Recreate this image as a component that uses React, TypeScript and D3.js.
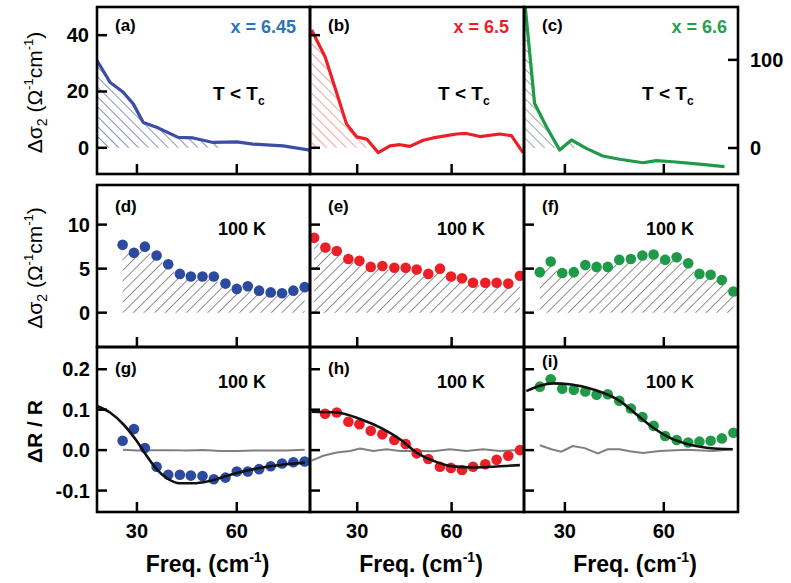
import React from 'react';
import * as d3 from 'd3';

// ---------- data ----------
const FREQ_TICKS = [30, 60];
const TOP_TICKS_AB = [0, 20, 40];
const TOP_TICKS_B = [0, 40];
const TOP_TICKS_C = [0, 100];
const MID_TICKS = [0, 5, 10];
const BOT_TICKS = [-0.1, 0.0, 0.1, 0.2];
const BOT_TICK_LABELS = ['-0.1', '0.0', '0.1', '0.2'];

// (a) x = 6.45, T < Tc
const aFreq = [18, 21.9, 25.8, 28.9, 31.9, 35.9, 42.4, 46.9, 52.9, 60, 64.9, 73.9, 82];
const aSigma = [31, 23.3, 19.8, 15.6, 9, 7.3, 3.7, 3.5, 1.9, 2.1, 1.3, 0.7, -0.8];
// (b) x = 6.5, T < Tc
const bFreq = [15.5, 19.8, 22.9, 26.6, 29.8, 33, 36.7, 40.4, 43.6, 46.7, 51, 54.1, 58.4, 61.6, 64.7, 69, 75.3, 79, 82.7];
const bSigma = [41.8, 32.3, 21.5, 8.5, 3.9, 3.1, -1.7, 0.7, 1.1, 0.5, 2.7, 3.5, 4.3, 4.9, 5.1, 4.0, 4.9, 4.3, -1.7];
// (c) x = 6.6, T < Tc
const cFreq = [17.6, 20.8, 24.4, 28.4, 32, 36.5, 41.5, 46.6, 53.7, 57.7, 62.7, 70.8, 78.4];
const cSigma = [175, 50.8, 24.2, -2.3, 9.1, -0.4, -9.1, -12.8, -16.7, -14.4, -15.6, -18.2, -21.2];

// (d) 100 K
const dFreq = [25.7, 29.1, 32.4, 35.9, 39.4, 42.9, 46.2, 49.7, 53.1, 56.6, 60, 63.3, 66.7, 70.2, 73.6, 77, 80.4];
const dSigma = [7.7, 6.8, 7.5, 6.5, 5.5, 4.4, 4.1, 4.1, 4.1, 3.3, 2.7, 3.0, 2.5, 2.3, 2.2, 2.5, 2.9];
// (e) 100 K
const eFreq = [16.3, 19.9, 23.5, 27.2, 30.7, 34.3, 38, 41.8, 45.4, 48.9, 52.6, 56.3, 59.8, 63.3, 66.8, 70.7, 74.3, 78, 81.7];
const eSigma = [8.5, 7.4, 7.0, 6.1, 5.9, 5.2, 5.3, 5.1, 5.1, 4.9, 4.4, 5.0, 4.1, 3.9, 3.4, 3.4, 3.4, 3.3, 4.2];
// (f) 100 K
const fFreq = [22.4, 25.7, 29.2, 32.7, 36.2, 39.6, 43, 46.5, 50, 53.5, 56.9, 60.4, 63.9, 67.4, 70.8, 74.2, 77.6, 81.1];
const fSigma = [4.6, 5.8, 4.5, 4.6, 5.4, 5.2, 5.2, 6.0, 6.1, 6.5, 6.6, 6.0, 6.3, 5.6, 4.4, 4.3, 3.7, 2.4];

// (g) ΔR/R 100 K
const gFreq = dFreq;
const gDR = [0.023, 0.052, 0.005, -0.041, -0.061, -0.061, -0.063, -0.064, -0.072, -0.068, -0.053, -0.053, -0.047, -0.040, -0.033, -0.030, -0.028];
const gFitFreq = [18, 21.9, 25.9, 29.9, 32.9, 35.9, 38.9, 42.9, 46.9, 51.9, 58.9, 66.9, 74.9, 80.5];
const gFit = [0.109, 0.093, 0.064, 0.023, -0.014, -0.047, -0.069, -0.082, -0.082, -0.076, -0.059, -0.044, -0.035, -0.031];
const gRefFreq = [25.8, 30, 35, 40, 45, 50, 55, 60, 65, 70, 75, 80.4];
const gRef = [0.001, -0.001, 0.0, 0.0, -0.001, 0.0, -0.002, -0.002, -0.001, -0.001, -0.001, 0.001];
// (h)
const hFreq = [19.8, 23.5, 27.2, 30.7, 34.3, 38, 41.8, 45.4, 48.9, 52.6, 56.3, 59.8, 63.3, 66.8, 70.7, 74.3, 78, 81.7];
const hDR = [0.090, 0.093, 0.070, 0.064, 0.048, 0.039, 0.025, 0.015, -0.008, -0.022, -0.041, -0.044, -0.049, -0.041, -0.035, -0.024, -0.014, 0.000];
const hFitFreq = [15.5, 23.5, 30.9, 38.3, 43.6, 48.9, 54.1, 59.4, 66.8, 75.3, 81.7];
const hFit = [0.095, 0.093, 0.077, 0.052, 0.027, -0.006, -0.026, -0.039, -0.043, -0.040, -0.037];
const hRefFreq = [15.5, 19.2, 23.5, 27.7, 30.9, 35.1, 39.3, 43.6, 50, 54.1, 59.4, 64.7, 70, 75.3, 81.7];
const hRef = [-0.026, -0.014, -0.006, -0.002, 0.004, -0.002, 0.002, -0.002, -0.002, -0.003, 0.002, -0.002, 0.002, -0.002, 0.0];
// (i)
const iFreq = fFreq;
const iDR = [0.157, 0.175, 0.152, 0.149, 0.145, 0.137, 0.138, 0.122, 0.103, 0.082, 0.060, 0.035, 0.025, 0.019, 0.021, 0.023, 0.029, 0.043];
const iFitFreq = [18.3, 22.4, 26.4, 31.4, 36.5, 41.5, 46.6, 51.6, 56.7, 61.7, 66.8, 72.9, 80.9];
const iFit = [0.146, 0.159, 0.165, 0.163, 0.155, 0.142, 0.122, 0.089, 0.056, 0.031, 0.016, 0.006, 0.002];
const iRefFreq = [22.4, 25.9, 28.9, 32.4, 36, 40, 43, 46.6, 49.6, 53.7, 58.7, 66.8, 74.9, 80.9];
const iRef = [0.012, 0.002, -0.004, 0.010, 0.005, -0.008, 0.002, 0.002, -0.003, -0.007, -0.002, 0.001, -0.002, 0.002];

// ---------- layout ----------
const W = 791, H = 583;
const FONT = "'Liberation Sans', Arial, Helvetica, sans-serif";
const COLX = [[97, 310], [310, 524], [524, 738]];
const COL_DOMAIN = [[18, 82], [15, 83], [17.6, 82.5]];
const ROWY = [[7, 174], [185, 347], [347, 512]];

const xS = COLX.map((r, i) => d3.scaleLinear().domain(COL_DOMAIN[i]).range(r));
const yTop = d3.scaleLinear().domain([-9.3, 50]).range([ROWY[0][1], ROWY[0][0]]);
const yTopC = d3.scaleLinear().domain([-29.5, 160]).range([ROWY[0][1], ROWY[0][0]]);
const yMid = d3.scaleLinear().domain([-3.9, 14.5]).range([ROWY[1][1], ROWY[1][0]]);
const yBot = d3.scaleLinear().domain([-0.153, 0.255]).range([ROWY[2][1], ROWY[2][0]]);

const BLUE = '#3a4ea5';
const BLUE_DOT = '#2c4ba0';
const BLUE_TXT = '#2f73b8';
const RED = '#ec1f26';
const GREEN = '#1e9a48';
const GREEN_TXT = '#22a24e';

type Pt = [number, number];
const zip = (xs: number[], ys: number[]): Pt[] => xs.map((x, i) => [x, ys[i]]);

function interpAt(pts: Pt[], x: number) {
  for (let i = 0; i < pts.length - 1; i++) {
    const [x0, y0] = pts[i], [x1, y1] = pts[i + 1];
    if (x >= x0 && x <= x1) return y0 + ((y1 - y0) * (x - x0)) / (x1 - x0);
  }
  return pts[pts.length - 1][1];
}

function hatchPts(pts: Pt[], xEnd: number): Pt[] {
  const inside = pts.filter((p) => p[0] < xEnd);
  return [...inside, [xEnd, interpAt(pts, xEnd)]];
}

function Panel({ col, row, children, id }: any) {
  const [x0, x1] = COLX[col];
  const [y0, y1] = ROWY[row];
  return (
    <g>
      <defs>
        <clipPath id={id}>
          <rect x={x0} y={y0} width={x1 - x0} height={y1 - y0} />
        </clipPath>
      </defs>
      <g clipPath={`url(#${id})`}>{children}</g>
    </g>
  );
}

function XTicks({ col, row }: any) {
  const yb = ROWY[row][1];
  return (
    <g>
      {FREQ_TICKS.map((t) => (
        <line key={t} x1={xS[col](t)} x2={xS[col](t)} y1={yb} y2={yb - 10} stroke="#000" strokeWidth={2.5} />
      ))}
    </g>
  );
}

function YTicks({ col, ticks, y, right }: any) {
  const x = right ? COLX[col][1] : COLX[col][0];
  const d = right ? -10 : 10;
  return (
    <g>
      {ticks.map((t: number) => (
        <line key={t} x1={x} x2={x + d} y1={y(t)} y2={y(t)} stroke="#000" strokeWidth={2.5} />
      ))}
    </g>
  );
}

export default function App() {
  const lineTop = (xs: any, ys: any) =>
    d3.line<Pt>().x((d) => xs(d[0])).y((d) => ys(d[1]));
  const areaTop = (xs: any, ys: any) =>
    d3.area<Pt>().x((d) => xs(d[0])).y0(ys(0)).y1((d) => ys(Math.max(0, d[1])));

  const aPts = zip(aFreq, aSigma);
  const bPts = zip(bFreq, bSigma);
  const cPts = zip(cFreq, cSigma);
  const dPts = zip(dFreq, dSigma);
  const ePts = zip(eFreq, eSigma);
  const fPts = zip(fFreq, fSigma);

  const dot = (pts: Pt[], xs: any, ys: any, color: string) =>
    pts.map((p, i) => <circle key={i} cx={xs(p[0])} cy={ys(p[1])} r={5.3} fill={color} />);

  const bold = { fontFamily: FONT, fontWeight: 700 } as const;

  const panelLetter = (col: number, y: number, s: string) => (
    <text x={COLX[col][0] + 18} y={y} fontSize={17} {...bold}>{s}</text>
  );
  const tTc = (x: number) => (
    <text x={x} y={100} fontSize={19} {...bold}>
      T &lt; T<tspan fontSize={12} dy={5}>c</tspan>
    </text>
  );
  const k100 = (x: number, y: number) => (
    <text x={x} y={y} fontSize={18} {...bold}>100 K</text>
  );

  const midArea = (pts: Pt[], xs: any) =>
    d3.area<Pt>().x((d) => xs(d[0])).y0(yMid(0)).y1((d) => yMid(d[1] - 0.3))(pts) || '';

  const fitLine = (xs: any) => d3.line<Pt>().x((d) => xs(d[0])).y((d) => yBot(d[1])).curve(d3.curveMonotoneX);

  return (
    <svg width={W} height={H} style={{ position: 'absolute', left: 0, top: 0, background: '#fff' }}>
      <defs>
        <pattern id="hA" width={7} height={7} patternUnits="userSpaceOnUse" patternTransform="rotate(-45)">
          <line x1={0} y1={0} x2={0} y2={7} stroke="#56649a" strokeWidth={1.4} />
        </pattern>
        <pattern id="hB" width={7} height={7} patternUnits="userSpaceOnUse" patternTransform="rotate(-45)">
          <line x1={0} y1={0} x2={0} y2={7} stroke="#e97d70" strokeWidth={1.4} />
        </pattern>
        <pattern id="hC" width={7} height={7} patternUnits="userSpaceOnUse" patternTransform="rotate(-45)">
          <line x1={0} y1={0} x2={0} y2={7} stroke="#6a8871" strokeWidth={1.4} />
        </pattern>
        <pattern id="hM" width={7.5} height={7.5} patternUnits="userSpaceOnUse" patternTransform="rotate(45)">
          <line x1={0} y1={0} x2={0} y2={7.5} stroke="#555" strokeWidth={1.3} />
        </pattern>
      </defs>
      <rect width={W} height={H} fill="#fff" />

      {/* ---------- top row ---------- */}
      <Panel col={0} row={0} id="cpa">
        <path d={areaTop(xS[0], yTop)(hatchPts(aPts, 55)) || ''} fill="url(#hA)" />
        <path d={lineTop(xS[0], yTop)(aPts) || ''} fill="none" stroke={BLUE} strokeWidth={3.2} strokeLinejoin="round" />
      </Panel>
      <Panel col={1} row={0} id="cpb">
        <path d={areaTop(xS[1], yTop)(hatchPts(bPts, 35)) || ''} fill="url(#hB)" />
        <path d={lineTop(xS[1], yTop)(bPts) || ''} fill="none" stroke={RED} strokeWidth={3.2} strokeLinejoin="round" />
      </Panel>
      <Panel col={2} row={0} id="cpc">
        <path d={areaTop(xS[2], yTopC)(hatchPts(cPts, 34)) || ''} fill="url(#hC)" />
        <path d={lineTop(xS[2], yTopC)(cPts) || ''} fill="none" stroke={GREEN} strokeWidth={3.2} strokeLinejoin="round" />
      </Panel>

      {/* ---------- middle row ---------- */}
      <Panel col={0} row={1} id="cpd">
        <path d={midArea(dPts, xS[0])} fill="url(#hM)" />
        {dot(dPts, xS[0], yMid, BLUE_DOT)}
      </Panel>
      <Panel col={1} row={1} id="cpe">
        <path d={midArea(ePts, xS[1])} fill="url(#hM)" />
        {dot(ePts, xS[1], yMid, RED)}
      </Panel>
      <Panel col={2} row={1} id="cpf">
        <path d={midArea(fPts, xS[2])} fill="url(#hM)" />
        {dot(fPts, xS[2], yMid, GREEN)}
      </Panel>

      {/* ---------- bottom row ---------- */}
      <Panel col={0} row={2} id="cpg">
        <path d={d3.line<Pt>().x((d) => xS[0](d[0])).y((d) => yBot(d[1]))(zip(gRefFreq, gRef)) || ''} fill="none" stroke="#7f7f7f" strokeWidth={2} />
        {dot(zip(gFreq, gDR), xS[0], yBot, BLUE_DOT)}
        <path d={fitLine(xS[0])(zip(gFitFreq, gFit)) || ''} fill="none" stroke="#111" strokeWidth={2.6} />
      </Panel>
      <Panel col={1} row={2} id="cph">
        <path d={d3.line<Pt>().x((d) => xS[1](d[0])).y((d) => yBot(d[1]))(zip(hRefFreq, hRef)) || ''} fill="none" stroke="#7f7f7f" strokeWidth={2} />
        {dot(zip(hFreq, hDR), xS[1], yBot, RED)}
        <path d={fitLine(xS[1])(zip(hFitFreq, hFit)) || ''} fill="none" stroke="#111" strokeWidth={2.6} />
      </Panel>
      <Panel col={2} row={2} id="cpi">
        <path d={d3.line<Pt>().x((d) => xS[2](d[0])).y((d) => yBot(d[1]))(zip(iRefFreq, iRef)) || ''} fill="none" stroke="#7f7f7f" strokeWidth={2} />
        {dot(zip(iFreq, iDR), xS[2], yBot, GREEN)}
        <path d={fitLine(xS[2])(zip(iFitFreq, iFit)) || ''} fill="none" stroke="#111" strokeWidth={2.6} />
      </Panel>

      {/* ---------- ticks ---------- */}
      {[0, 1, 2].map((r) => [0, 1, 2].map((c) => <XTicks key={`${r}${c}`} col={c} row={r} />))}
      <YTicks col={0} ticks={TOP_TICKS_AB} y={yTop} />
      <YTicks col={1} ticks={TOP_TICKS_B} y={yTop} />
      <YTicks col={2} ticks={TOP_TICKS_C} y={yTopC} right />
      {[0, 1, 2].map((c) => <YTicks key={`m${c}`} col={c} ticks={MID_TICKS} y={yMid} />)}
      {[0, 1, 2].map((c) => <YTicks key={`b${c}`} col={c} ticks={BOT_TICKS} y={yBot} />)}

      {/* ---------- frames ---------- */}
      {[0, 1, 2].map((r) => [0, 1, 2].map((c) => (
        <rect key={`f${r}${c}`} x={COLX[c][0]} y={ROWY[r][0]} width={COLX[c][1] - COLX[c][0]} height={ROWY[r][1] - ROWY[r][0]} fill="none" stroke="#000" strokeWidth={2.6} />
      )))}

      {/* ---------- tick labels ---------- */}
      {TOP_TICKS_AB.map((t) => (
        <text key={`tl${t}`} x={89} y={yTop(t) + 7} textAnchor="end" fontSize={20} {...bold}>{t}</text>
      ))}
      {TOP_TICKS_C.map((t) => (
        <text key={`tr${t}`} x={750} y={yTopC(t) + 7} textAnchor="start" fontSize={20} {...bold}>{t}</text>
      ))}
      {MID_TICKS.map((t) => (
        <text key={`ml${t}`} x={90} y={yMid(t) + 7} textAnchor="end" fontSize={20} {...bold}>{t}</text>
      ))}
      {BOT_TICKS.map((t, i) => (
        <text key={`bl${t}`} x={90} y={yBot(t) + 7} textAnchor="end" fontSize={20} {...bold}>{BOT_TICK_LABELS[i]}</text>
      ))}
      {[0, 1, 2].map((c) => FREQ_TICKS.map((t) => (
        <text key={`xl${c}${t}`} x={xS[c](t)} y={538} textAnchor="middle" fontSize={20} {...bold}>{t}</text>
      )))}

      {/* ---------- axis titles ---------- */}
      {[0, 1, 2].map((c) => (
        <text key={`ft${c}`} x={(COLX[c][0] + COLX[c][1]) / 2 + 4} y={572} textAnchor="middle" fontSize={23} {...bold}>
          Freq. (cm<tspan fontSize={14} dy={-10}>-1</tspan><tspan dy={10}>)</tspan>
        </text>
      ))}
      {[(ROWY[0][0] + ROWY[0][1]) / 2 + 2, (ROWY[1][0] + ROWY[1][1]) / 2 + 2].map((cy, i) => (
        <text key={`yt${i}`} transform={`translate(42,${cy}) rotate(-90)`} textAnchor="middle" fontSize={21} fontFamily={FONT}>
          Δσ<tspan fontSize={14} dy={5}>2</tspan><tspan dy={-5}> (Ω</tspan><tspan fontSize={13} dy={-9}>-1</tspan><tspan dy={9}>cm</tspan><tspan fontSize={13} dy={-9}>-1</tspan><tspan dy={9}>)</tspan>
        </text>
      ))}
      <text transform={`translate(42,${(ROWY[2][0] + ROWY[2][1]) / 2 + 2}) rotate(-90)`} textAnchor="middle" fontSize={21} {...bold}>
        ΔR / R
      </text>

      {/* ---------- annotations ---------- */}
      {panelLetter(0, 31, '(a)')}
      {panelLetter(1, 31, '(b)')}
      {panelLetter(2, 31, '(c)')}
      <text x={296} y={33} textAnchor="end" fontSize={18} {...bold} fill={BLUE_TXT}>x = 6.45</text>
      <text x={509} y={33} textAnchor="end" fontSize={18} {...bold} fill={RED}>x = 6.5</text>
      <text x={727} y={33} textAnchor="end" fontSize={18} {...bold} fill={GREEN_TXT}>x = 6.6</text>
      {tTc(213)}
      {tTc(438)}
      {tTc(642)}

      {panelLetter(0, 212, '(d)')}
      {panelLetter(1, 212, '(e)')}
      {panelLetter(2, 212, '(f)')}
      {k100(218, 235)}
      {k100(437, 235)}
      {k100(646, 235)}

      {panelLetter(0, 374, '(g)')}
      {panelLetter(1, 374, '(h)')}
      {panelLetter(2, 367, '(i)')}
      {k100(218, 388)}
      {k100(437, 388)}
      {k100(646, 388)}
    </svg>
  );
}
